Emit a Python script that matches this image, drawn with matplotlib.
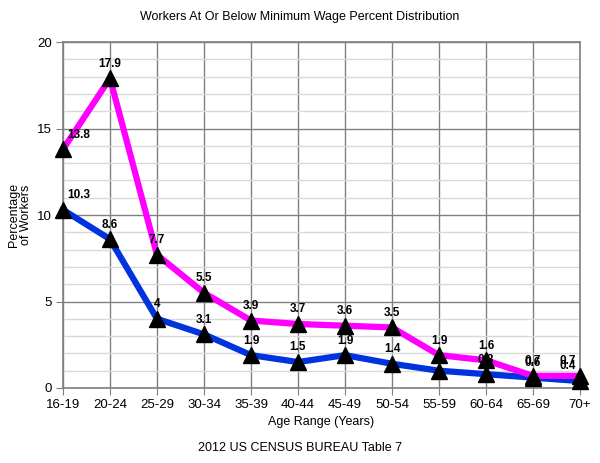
import numpy as np
import matplotlib
matplotlib.use("Agg")
from matplotlib import pyplot as plt

plt.rcParams['font.family'] = ['Liberation Sans', 'DejaVu Sans']

age_ranges = ["16-19", "20-24", "25-29", "30-34", "35-39", "40-44",
              "45-49", "50-54", "55-59", "60-64", "65-69", "70+"]
pct_pink = [13.8, 17.9, 7.7, 5.5, 3.9, 3.7, 3.6, 3.5, 1.9, 1.6, 0.7, 0.7]
pct_blue = [10.3, 8.6, 4, 3.1, 1.9, 1.5, 1.9, 1.4, 1.0, 0.8, 0.6, 0.4]

fig = plt.figure(figsize=(6, 4.63), dpi=100)
ax = fig.add_axes([63 / 600, 75 / 463, 517 / 600, 346 / 463])

x = np.arange(len(age_ranges))
grid_dark = "#808080"

ax.set_xlim(0, len(age_ranges) - 1)
ax.set_ylim(0, 20)
ax.set_yticks([0, 5, 10, 15, 20])
ax.set_yticks(np.arange(0, 21, 1), minor=True)
ax.set_xticks(x)
ax.set_xticklabels(age_ranges)
ax.tick_params(axis="both", which="major", length=5, color=grid_dark,
               labelsize=9.5, pad=3)
ax.tick_params(axis="y", which="minor", length=0)
ax.grid(axis="y", which="minor", color="#d9d9d9", lw=1)
ax.grid(axis="y", which="major", color=grid_dark, lw=1)
ax.grid(axis="x", which="major", color=grid_dark, lw=1)
ax.set_axisbelow(True)
for s in ax.spines.values():
    s.set_color(grid_dark)
    s.set_linewidth(1.2)

def draw(vals, color):
    ax.plot(x, vals, color=color, lw=4.5, zorder=3, clip_on=False)
    ax.plot(x, vals, ls="none", marker="^", ms=11, color="black", zorder=4,
            clip_on=False)
    for i, v in enumerate(vals):
        dx = 0
        if i == 0:
            dx = 11
        elif i == len(vals) - 1:
            dx = -9
        ax.annotate(f"{v:g}", (x[i], v), xytext=(dx, 10.5), textcoords="offset points",
                    ha="center", va="center", fontsize=8.5, fontweight="bold",
                    zorder=5, annotation_clip=False)

draw(pct_blue, "#0033dd")
draw(pct_pink, "#ff00ff")

fig.text(0.5, 1 - 17 / 463, "Workers At Or Below Minimum Wage Percent Distribution",
         ha="center", va="center", fontsize=9)
fig.text(321 / 600, 1 - 422 / 463, "Age Range (Years)", ha="center", va="center",
         fontsize=9)
fig.text(0.5, 1 - 448 / 463, "2012 US CENSUS BUREAU Table 7", ha="center",
         va="center", fontsize=9)
fig.text(20 / 600, 1 - 215 / 463, "Percentage\nof Workers", ha="center",
         va="center", rotation=90, fontsize=9, linespacing=1.05)

fig.savefig("out.png", dpi=100)
